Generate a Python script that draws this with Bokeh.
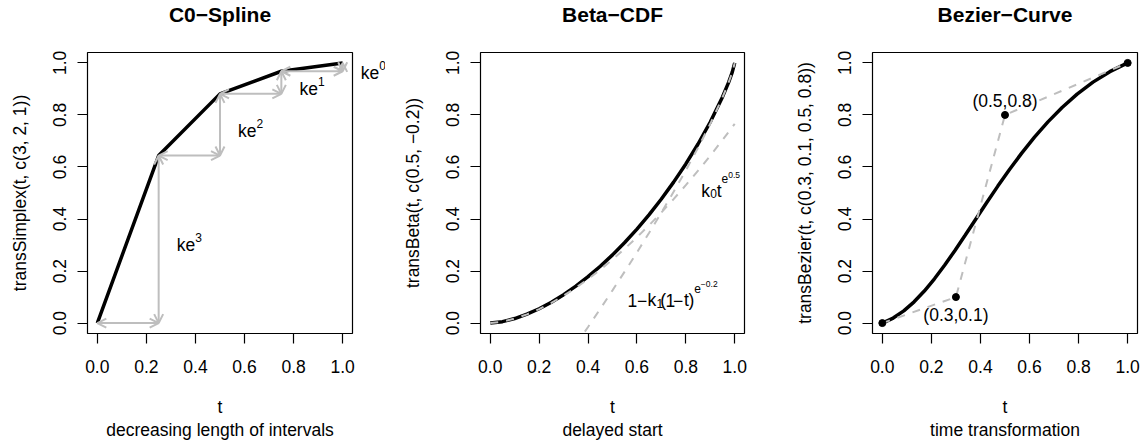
from bokeh.plotting import figure
from bokeh.models import (Range1d, FixedTicker, PrintfTickFormatter, Label, Title,
                          Arrow, OpenHead, ColumnDataSource)
from bokeh.core.properties import value
from bokeh.layouts import row
from bokeh.embed import file_html
from bokeh.resources import INLINE

FONT = "Liberation Sans"
GRAY = "#BEBEBE"

# ---------------- data ----------------
titles = ["C0\u2212Spline", "Beta\u2212CDF", "Bezier\u2212Curve"]
ylabels = ["transSimplex(t, c(3, 2, 1))",
           "transBeta(t, c(0.5, \u22120.2))",
           "transBezier(t, c(0.3, 0.1, 0.5, 0.8))"]
subtitles = ["decreasing length of intervals", "delayed start", "time transformation"]
tick_values = [0.0, 0.2, 0.4, 0.6, 0.8, 1.0]

# C0-spline knots
spline_t = [0.0, 0.25, 0.5, 0.75, 1.0]
spline_y = [0.0, 0.644, 0.881, 0.968, 1.0]
spline_exp = ["3", "2", "1", "0"]

# Beta CDF (solid)
beta_t = [0.0, 0.05, 0.1, 0.15, 0.2, 0.25, 0.3, 0.35, 0.4, 0.45, 0.5, 0.55, 0.6,
          0.65, 0.7, 0.75, 0.8, 0.85, 0.9, 0.95, 0.975, 0.99, 1.0]
beta_y = [0.0, 0.0055, 0.0174, 0.0342, 0.0552, 0.0804, 0.1093, 0.1420, 0.1784, 0.2185,
          0.2622, 0.3098, 0.3613, 0.4169, 0.4769, 0.5417, 0.6118, 0.6883, 0.7728,
          0.8692, 0.9253, 0.9646, 1.0]
# lower-tail approximation k0 t^(e^0.5) (dashed)
approx0_t = [0.0, 0.05, 0.1, 0.15, 0.2, 0.25, 0.3, 0.35, 0.4, 0.45, 0.5, 0.55, 0.6,
             0.65, 0.7, 0.75, 0.8, 0.85, 0.9, 0.95, 1.0]
approx0_y = [0.0, 0.0055, 0.0172, 0.0336, 0.0539, 0.0779, 0.1052, 0.1356, 0.1690, 0.2053,
             0.2442, 0.2858, 0.3299, 0.3764, 0.4253, 0.4765, 0.5300, 0.5858, 0.6436,
             0.7037, 0.7658]
# upper-tail approximation 1 - k1 (1-t)^(e^-0.2) (dashed)
approx1_t = [0.35, 0.4, 0.45, 0.5, 0.55, 0.6, 0.65, 0.7, 0.75, 0.8, 0.85, 0.9, 0.95,
             0.975, 0.99, 1.0]
approx1_y = [-0.0837, -0.0150, 0.0548, 0.1258, 0.1980, 0.2717, 0.3472, 0.4246, 0.5044,
             0.5871, 0.6738, 0.7659, 0.8673, 0.9248, 0.9645, 1.0]

# Bezier curve and its control polygon
bez_x = [0.0, 0.0443, 0.0874, 0.1296, 0.1712, 0.2125, 0.2538, 0.2954, 0.3376, 0.3807,
         0.4250, 0.4708, 0.5184, 0.5681, 0.6202, 0.6750, 0.7328, 0.7939, 0.8586,
         0.9272, 1.0]
bez_y = [0.0, 0.0194, 0.0469, 0.0818, 0.1232, 0.1703, 0.2223, 0.2783, 0.3376, 0.3993,
         0.4625, 0.5265, 0.5904, 0.6534, 0.7147, 0.7734, 0.8288, 0.8800, 0.9261,
         0.9664, 1.0]
ctrl_x = [0.0, 0.3, 0.5, 1.0]
ctrl_y = [0.0, 0.1, 0.8, 1.0]
ctrl_labels = ["", "(0.3,0.1)", "(0.5,0.8)", ""]

LABEL_SIZE = "17.5px"


# ---------------- helpers ----------------
def make_fig(title, ylabel, subtitle, left, right, fw):
    p = figure(title=title, frame_width=fw, frame_height=281,
               x_range=Range1d(-0.04, 1.04), y_range=Range1d(-0.04, 1.04),
               output_backend="svg", toolbar_location=None,
               min_border_left=left, min_border_right=right,
               min_border_top=52, min_border_bottom=110,
               background_fill_color="white", border_fill_color="white")
    p.title.align = "center"
    p.title.vertical_align = "top"
    p.title.text_font = FONT
    p.title.text_font_size = "21px"
    p.title.text_font_style = "bold"
    p.title.text_color = "black"
    p.title.standoff = 0
    spacer = Title(text=" ", text_font=FONT, text_font_size="1px", standoff=22)
    p.add_layout(spacer, "above")
    p.grid.visible = False
    p.outline_line_color = "black"
    p.outline_line_width = 1.2
    for ax in (p.xaxis[0], p.yaxis[0]):
        ax.ticker = FixedTicker(ticks=tick_values)
        ax.formatter = PrintfTickFormatter(format="%.1f")
        ax.axis_line_color = None
        ax.major_tick_out = 10
        ax.major_tick_in = 0
        ax.minor_tick_out = 0
        ax.minor_tick_in = 0
        ax.major_tick_line_color = "black"
        ax.major_tick_line_width = 1.2
        ax.major_label_text_font = FONT
        ax.major_label_text_font_size = LABEL_SIZE
        ax.major_label_text_color = "black"
        ax.axis_label_text_font = FONT
        ax.axis_label_text_font_size = LABEL_SIZE
        ax.axis_label_text_font_style = "normal"
        ax.axis_label_text_color = "black"
    p.xaxis.axis_label = "t"
    p.xaxis.major_label_standoff = 16
    p.xaxis.axis_label_standoff = 21
    p.yaxis.axis_label = ylabel
    p.yaxis.major_label_orientation = "vertical"
    p.yaxis.major_label_standoff = 11
    p.yaxis.axis_label_standoff = 21
    sub = Title(text=subtitle, align="center", vertical_align="top", text_font=FONT,
                text_font_size=LABEL_SIZE, text_font_style="normal", text_color="black",
                standoff=0)
    p.add_layout(sub, "below")
    return p


def math_text(p, x, y, pieces):
    # pieces: (text, font size px, x offset px, baseline offset px (down))
    src = ColumnDataSource(dict(
        x=[x] * len(pieces), y=[y] * len(pieces),
        text=[pc[0] for pc in pieces],
        size=[f"{pc[1]}px" for pc in pieces],
        dx=[pc[2] for pc in pieces], dy=[pc[3] for pc in pieces]))
    p.text(x="x", y="y", text="text", source=src, text_font=value(FONT),
           text_font_size="size", x_offset="dx", y_offset="dy",
           text_align="left", text_baseline="alphabetic", text_color="black",
           level="overlay")


# ---------------- panel 1: C0 spline ----------------
p1 = make_fig(titles[0], ylabels[0], subtitles[0], 87, 33, 265)
p1.line(spline_t, spline_y, line_color="black", line_width=3.5)
n = len(spline_t)
h_src = ColumnDataSource(dict(x0=spline_t[:-1], y0=spline_y[:-1],
                              x1=spline_t[1:], y1=spline_y[:-1]))
v_src = ColumnDataSource(dict(x0=spline_t[1:], y0=spline_y[:-1],
                              x1=spline_t[1:], y1=spline_y[1:]))
for src in (h_src, v_src):
    p1.add_layout(Arrow(start=OpenHead(size=9, line_color=GRAY, line_width=2),
                        end=OpenHead(size=9, line_color=GRAY, line_width=2),
                        x_start="x0", y_start="y0", x_end="x1", y_end="y1",
                        source=src, line_color=GRAY, line_width=2))
half_step = (spline_t[1] - spline_t[0]) / 2
for i in range(n - 1):
    xc = spline_t[i + 1] + half_step
    yc = (spline_y[i] + spline_y[i + 1]) / 2
    math_text(p1, xc, yc, [("ke", 17.5, -12.6, 6), (spline_exp[i], 12, 5.9, -1.5)])

# ---------------- panel 2: Beta CDF ----------------
p2 = make_fig(titles[1], ylabels[1], subtitles[1], 95, 18, 264)
p2.line(beta_t, beta_y, line_color="black", line_width=3.5)
p2.line(approx0_t, approx0_y, line_color=GRAY, line_width=2, line_dash="8 8")
p2.line(approx1_t, approx1_y, line_color=GRAY, line_width=2, line_dash="8 8")
math_text(p2, 0.8635, 0.5077, [("k", 17.5, 0, 0), ("0", 12, 8.8, 3), ("t", 17.5, 15.5, 0),
                                ("e", 12, 20.2, -12), ("0.5", 8.5, 26.9, -16)])
math_text(p2, 0.5615, 0.0869, [("1", 17.5, 0, 0), ("\u2212", 17.5, 9.5, 0), ("k", 17.5, 20, 0),
                                ("1", 12, 29, 3), ("(", 17.5, 32.8, 0), ("1", 17.5, 38, 0),
                                ("\u2212", 17.5, 45.5, 0), ("t", 17.5, 56.5, 0), (")", 17.5, 61, 0),
                                ("e", 12, 66.8, -12), ("\u22120.2", 8.5, 73.3, -16)])

# ---------------- panel 3: Bezier ----------------
p3 = make_fig(titles[2], ylabels[2], subtitles[2], 110, 9, 265)
p3.line(bez_x, bez_y, line_color="black", line_width=3.5)
p3.line(ctrl_x, ctrl_y, line_color=GRAY, line_width=2, line_dash="8 8")
p3.scatter(ctrl_x, ctrl_y, size=7, color="black")
label_dy = [0, -17.8, 13.5, 0]
for cx, cy, lab, dy in zip(ctrl_x, ctrl_y, ctrl_labels, label_dy):
    if lab:
        p3.add_layout(Label(x=cx, y=cy, y_offset=dy, text=lab, text_font=FONT,
                            text_font_size=LABEL_SIZE, text_align="center",
                            text_baseline="middle", text_color="black"))

layout = row(p1, p2, p3)
open("out.html", "w").write(file_html(layout, INLINE))
